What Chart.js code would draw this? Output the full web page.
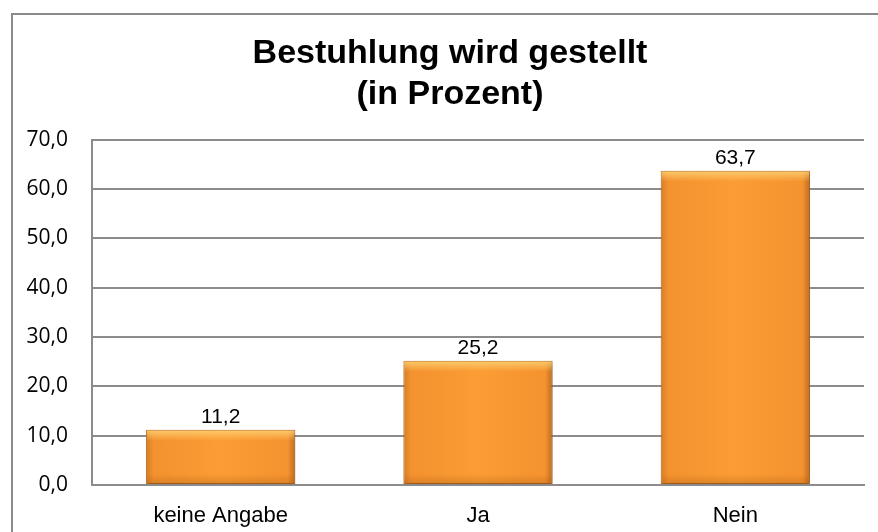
<!DOCTYPE html>
<html lang="de">
<head>
<meta charset="utf-8">
<title>Bestuhlung wird gestellt</title>
<script src="https://cdn.jsdelivr.net/npm/chart.js@4.4.1/dist/chart.umd.min.js"></script>
<style>
    html, body { margin: 0; padding: 0; background: #fff; overflow: hidden; }
    #wrap { position: relative; width: 878px; height: 532px; }
    #chart { position: absolute; left: 0; top: 0; }
    #frame {
        position: absolute; left: 11px; top: 13px;
        width: 880px; height: 560px;
        border: 2px solid #8a8a8a; pointer-events: none;
    }
</style>
</head>
<body>
<div id="wrap">
    <canvas id="chart" width="878" height="532"></canvas>
    <div id="frame"></div>
</div>
<script>
    'use strict';

    // --- data ---
    const categories = ['keine Angabe', 'Ja', 'Nein'];
    const percentValues = [11.2, 25.2, 63.7];
    const titleLines = ['Bestuhlung wird gestellt', '(in Prozent)'];

    const BAR_PCT = 0.58;
    const TITLE_LEFT = 36;   // title is centred over the plot, not the canvas

    function fmt(v) {
        return Number(v).toFixed(1).replace('.', ',');
    }

    // horizontal bevel-like gradient per bar
    function barFill(ctx) {
        const chart = ctx.chart;
        const xs = chart.scales && chart.scales.x;
        if (!xs || !chart.chartArea) return '#F7952F';
        const cx = xs.getPixelForValue(ctx.dataIndex);
        const w = xs.width / categories.length * BAR_PCT;
        const g = chart.ctx.createLinearGradient(cx - w / 2, 0, cx + w / 2, 0);
        g.addColorStop(0, '#D67D26');
        g.addColorStop(0.05, '#F3922F');
        g.addColorStop(0.5, '#FB9C34');
        g.addColorStop(0.95, '#F4932F');
        g.addColorStop(1, '#BF6B1F');
        return g;
    }

    const barEffects = {
        id: 'barEffects',
        afterLayout(chart) {
            if (chart.titleBlock) {
                chart.titleBlock.left = TITLE_LEFT;
                chart.titleBlock.width = chart.titleBlock.right - TITLE_LEFT;
            }
        },
        beforeDatasetsDraw(chart) {
            const c = chart.ctx;
            c.save();
            c.shadowColor = 'rgba(0,0,0,0.3)';
            c.shadowBlur = 6;
            c.shadowOffsetX = 2;
            c.shadowOffsetY = 2;
        },
        afterDatasetsDraw(chart) {
            const c = chart.ctx;
            c.restore();
            const meta = chart.getDatasetMeta(0);
            meta.data.forEach((bar, i) => {
                const p = bar.getProps(['x', 'y', 'base', 'width'], true);
                const left = p.x - p.width / 2;
                // top highlight
                const gt = c.createLinearGradient(0, p.y, 0, p.y + 11);
                gt.addColorStop(0, 'rgba(255,214,120,0.85)');
                gt.addColorStop(1, 'rgba(255,214,120,0)');
                c.fillStyle = gt;
                c.fillRect(left + 1, p.y + 1, p.width - 2, 11);
                // bottom shade
                const gb = c.createLinearGradient(0, p.base - 10, 0, p.base);
                gb.addColorStop(0, 'rgba(160,80,15,0)');
                gb.addColorStop(1, 'rgba(160,80,15,0.3)');
                c.fillStyle = gb;
                c.fillRect(left + 1, p.base - 10, p.width - 2, 10);
                // value label
                c.save();
                c.fillStyle = '#000';
                c.font = '21px "Liberation Sans", Arial, sans-serif';
                c.textAlign = 'center';
                c.textBaseline = 'alphabetic';
                c.fillText(fmt(percentValues[i]), p.x, p.y - 7);
                c.restore();
            });
        }
    };

    new Chart(document.getElementById('chart').getContext('2d'), {
        type: 'bar',
        data: {
            labels: categories,
            datasets: [{
                data: percentValues,
                backgroundColor: barFill,
                borderColor: '#C87320',
                borderWidth: 1,
                borderSkipped: false,
                categoryPercentage: 1,
                barPercentage: BAR_PCT
            }]
        },
        options: {
            responsive: false,
            animation: false,
            devicePixelRatio: 1,
            layout: { padding: { left: 0, right: 14, top: 0, bottom: 0 } },
            plugins: {
                legend: { display: false },
                tooltip: { enabled: false },
                title: {
                    display: true,
                    text: titleLines,
                    color: '#000',
                    font: { family: '"Liberation Sans", Arial, sans-serif', size: 34, weight: 'bold', lineHeight: 1.2 },
                    padding: { top: 33, bottom: 25 }
                }
            },
            scales: {
                x: {
                    grid: { display: false, drawTicks: false },
                    border: { display: true, color: '#8c8c8c', width: 2 },
                    ticks: {
                        padding: 18,
                        color: '#000',
                        font: { family: '"Liberation Sans", Arial, sans-serif', size: 22 }
                    },
                    afterFit(scale) { scale.height = 47; }
                },
                y: {
                    min: 0,
                    max: 70,
                    grid: { color: '#8c8c8c', lineWidth: 2, drawTicks: false },
                    border: { display: true, color: '#8c8c8c', width: 2 },
                    ticks: {
                        stepSize: 10,
                        padding: 24,
                        color: '#000',
                        font: { family: '"Open Sans", sans-serif', size: 21 },
                        callback: (v) => fmt(v)
                    },
                    afterFit(scale) { scale.width = 92; }
                }
            }
        },
        plugins: [barEffects]
    });
</script>
</body>
</html>
